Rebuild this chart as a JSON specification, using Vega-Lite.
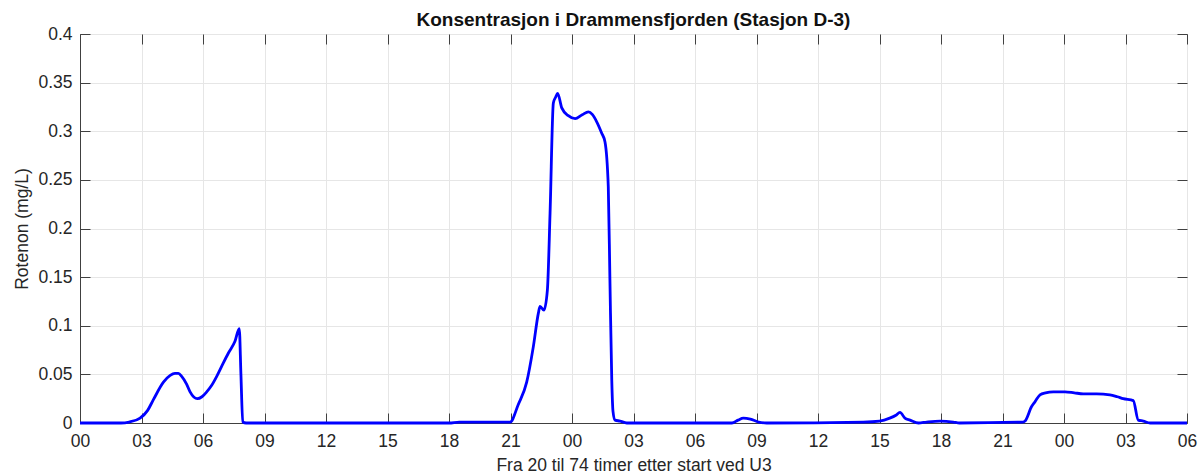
{
  "$schema": "https://vega.github.io/schema/vega-lite/v6.json",
  "autosize": {"type": "none"},
  "width": 1107,
  "height": 389,
  "padding": {"left": 80, "top": 34, "right": 12, "bottom": 52},
  "title": {"text": "Konsentrasjon i Drammensfjorden (Stasjon D-3)", "font": "Liberation Sans", "fontSize": 19, "fontWeight": "bold", "color": "#111111", "offset": -5, "anchor": "middle"},
  "config": {
    "view": {"stroke": "#404040", "strokeWidth": 1},
    "axis": {"labelFont": "Liberation Sans", "titleFont": "Liberation Sans", "labelFontSize": 17.5, "titleFontSize": 17.5, "labelColor": "#262626", "titleColor": "#262626", "titleFontWeight": "normal", "domainColor": "#404040", "tickColor": "#404040", "gridColor": "#e6e6e6", "gridWidth": 1}
  },
  "data": {"values": [
    {"h": 0, "v": 0}, {"h": 2.0, "v": 0}, {"h": 2.4, "v": 0.001}, {"h": 2.93, "v": 0.005}, {"h": 3.3, "v": 0.013},
    {"h": 3.58, "v": 0.024}, {"h": 4.07, "v": 0.042}, {"h": 4.4, "v": 0.049}, {"h": 4.63, "v": 0.051}, {"h": 4.8, "v": 0.051},
    {"h": 4.96, "v": 0.048}, {"h": 5.2, "v": 0.04}, {"h": 5.37, "v": 0.032}, {"h": 5.72, "v": 0.025}, {"h": 5.95, "v": 0.027},
    {"h": 6.18, "v": 0.032}, {"h": 6.4, "v": 0.038}, {"h": 6.67, "v": 0.048}, {"h": 6.95, "v": 0.06}, {"h": 7.24, "v": 0.072},
    {"h": 7.56, "v": 0.084}, {"h": 7.77, "v": 0.097}, {"h": 7.85, "v": 0.05}, {"h": 7.94, "v": 0.001}, {"h": 8.1, "v": 0},
    {"h": 18.0, "v": 0}, {"h": 18.5, "v": 0.001}, {"h": 19.5, "v": 0.001}, {"h": 20.5, "v": 0.001}, {"h": 20.98, "v": 0.001},
    {"h": 21.38, "v": 0.019}, {"h": 21.79, "v": 0.042}, {"h": 22.11, "v": 0.078}, {"h": 22.36, "v": 0.113}, {"h": 22.44, "v": 0.12},
    {"h": 22.63, "v": 0.116}, {"h": 22.8, "v": 0.137}, {"h": 22.93, "v": 0.216}, {"h": 23.09, "v": 0.329}, {"h": 23.2, "v": 0.335},
    {"h": 23.3, "v": 0.339}, {"h": 23.5, "v": 0.324}, {"h": 23.82, "v": 0.316}, {"h": 24.15, "v": 0.313}, {"h": 24.5, "v": 0.317},
    {"h": 24.8, "v": 0.32}, {"h": 25.0, "v": 0.317}, {"h": 25.2, "v": 0.31}, {"h": 25.45, "v": 0.298}, {"h": 25.61, "v": 0.289},
    {"h": 25.77, "v": 0.243}, {"h": 25.85, "v": 0.147}, {"h": 25.94, "v": 0.044}, {"h": 26.0, "v": 0.012}, {"h": 26.1, "v": 0.003},
    {"h": 26.34, "v": 0.002}, {"h": 26.67, "v": 0}, {"h": 31.8, "v": 0}, {"h": 32.1, "v": 0.003}, {"h": 32.36, "v": 0.005},
    {"h": 32.7, "v": 0.004}, {"h": 33.1, "v": 0.001}, {"h": 33.5, "v": 0}, {"h": 38.2, "v": 0.001}, {"h": 39.0, "v": 0.002},
    {"h": 39.5, "v": 0.005}, {"h": 39.8, "v": 0.008}, {"h": 40.0, "v": 0.011}, {"h": 40.24, "v": 0.005}, {"h": 40.49, "v": 0.003},
    {"h": 40.9, "v": 0}, {"h": 41.3, "v": 0.001}, {"h": 41.95, "v": 0.002}, {"h": 42.6, "v": 0.001}, {"h": 42.9, "v": 0},
    {"h": 46.0, "v": 0.001}, {"h": 46.1, "v": 0.002}, {"h": 46.42, "v": 0.017}, {"h": 46.59, "v": 0.022}, {"h": 46.83, "v": 0.029},
    {"h": 47.1, "v": 0.031}, {"h": 47.48, "v": 0.032}, {"h": 48.05, "v": 0.032}, {"h": 48.5, "v": 0.031}, {"h": 48.94, "v": 0.03},
    {"h": 49.59, "v": 0.03}, {"h": 50.24, "v": 0.029}, {"h": 50.6, "v": 0.027}, {"h": 50.89, "v": 0.025}, {"h": 51.38, "v": 0.023},
    {"h": 51.62, "v": 0.003}, {"h": 51.87, "v": 0.002}, {"h": 52.2, "v": 0}, {"h": 54, "v": 0}
  ]},
  "layer": [
    {
      "mark": {"type": "line", "opacity": 0},
      "encoding": {
        "x": {"field": "h", "type": "quantitative", "scale": {"domain": [0, 54], "nice": false},
              "axis": {"orient": "top", "values": [0,3,6,9,12,15,18,21,24,27,30,33,36,39,42,45,48,51,54], "labels": false, "grid": false, "domain": false, "tickSize": -10, "title": null}},
        "y": {"field": "v", "type": "quantitative", "scale": {"domain": [0, 0.4], "nice": false},
              "axis": {"orient": "right", "values": [0,0.05,0.1,0.15,0.2,0.25,0.3,0.35,0.4], "labels": false, "grid": false, "domain": false, "tickSize": -10, "title": null}}
      }
    },
    {
      "mark": {"type": "line", "color": "#0000ff", "strokeWidth": 2.8, "interpolate": "monotone"},
      "encoding": {
        "x": {"field": "h", "type": "quantitative", "scale": {"domain": [0, 54], "nice": false},
              "axis": {"orient": "bottom", "values": [0,3,6,9,12,15,18,21,24,27,30,33,36,39,42,45,48,51,54], "grid": true, "tickSize": -10, "labelPadding": 19,
                       "labelExpr": "(datum.value % 24 < 10 ? '0' : '') + (datum.value % 24)", "labelFlush": false, "labelOverlap": false,
                       "title": "Fra 20 til 74 timer etter start ved U3", "titlePadding": 7}},
        "y": {"field": "v", "type": "quantitative", "scale": {"domain": [0, 0.4], "nice": false},
              "axis": {"orient": "left", "values": [0,0.05,0.1,0.15,0.2,0.25,0.3,0.35,0.4], "grid": true, "tickSize": -10, "labelPadding": 18,
                       "format": ".2~f", "labelFlush": false, "labelOverlap": false,
                       "title": "Rotenon (mg/L)", "titlePadding": 6}}
      }
    }
  ],
  "resolve": {"axis": {"x": "independent", "y": "independent"}}
}
